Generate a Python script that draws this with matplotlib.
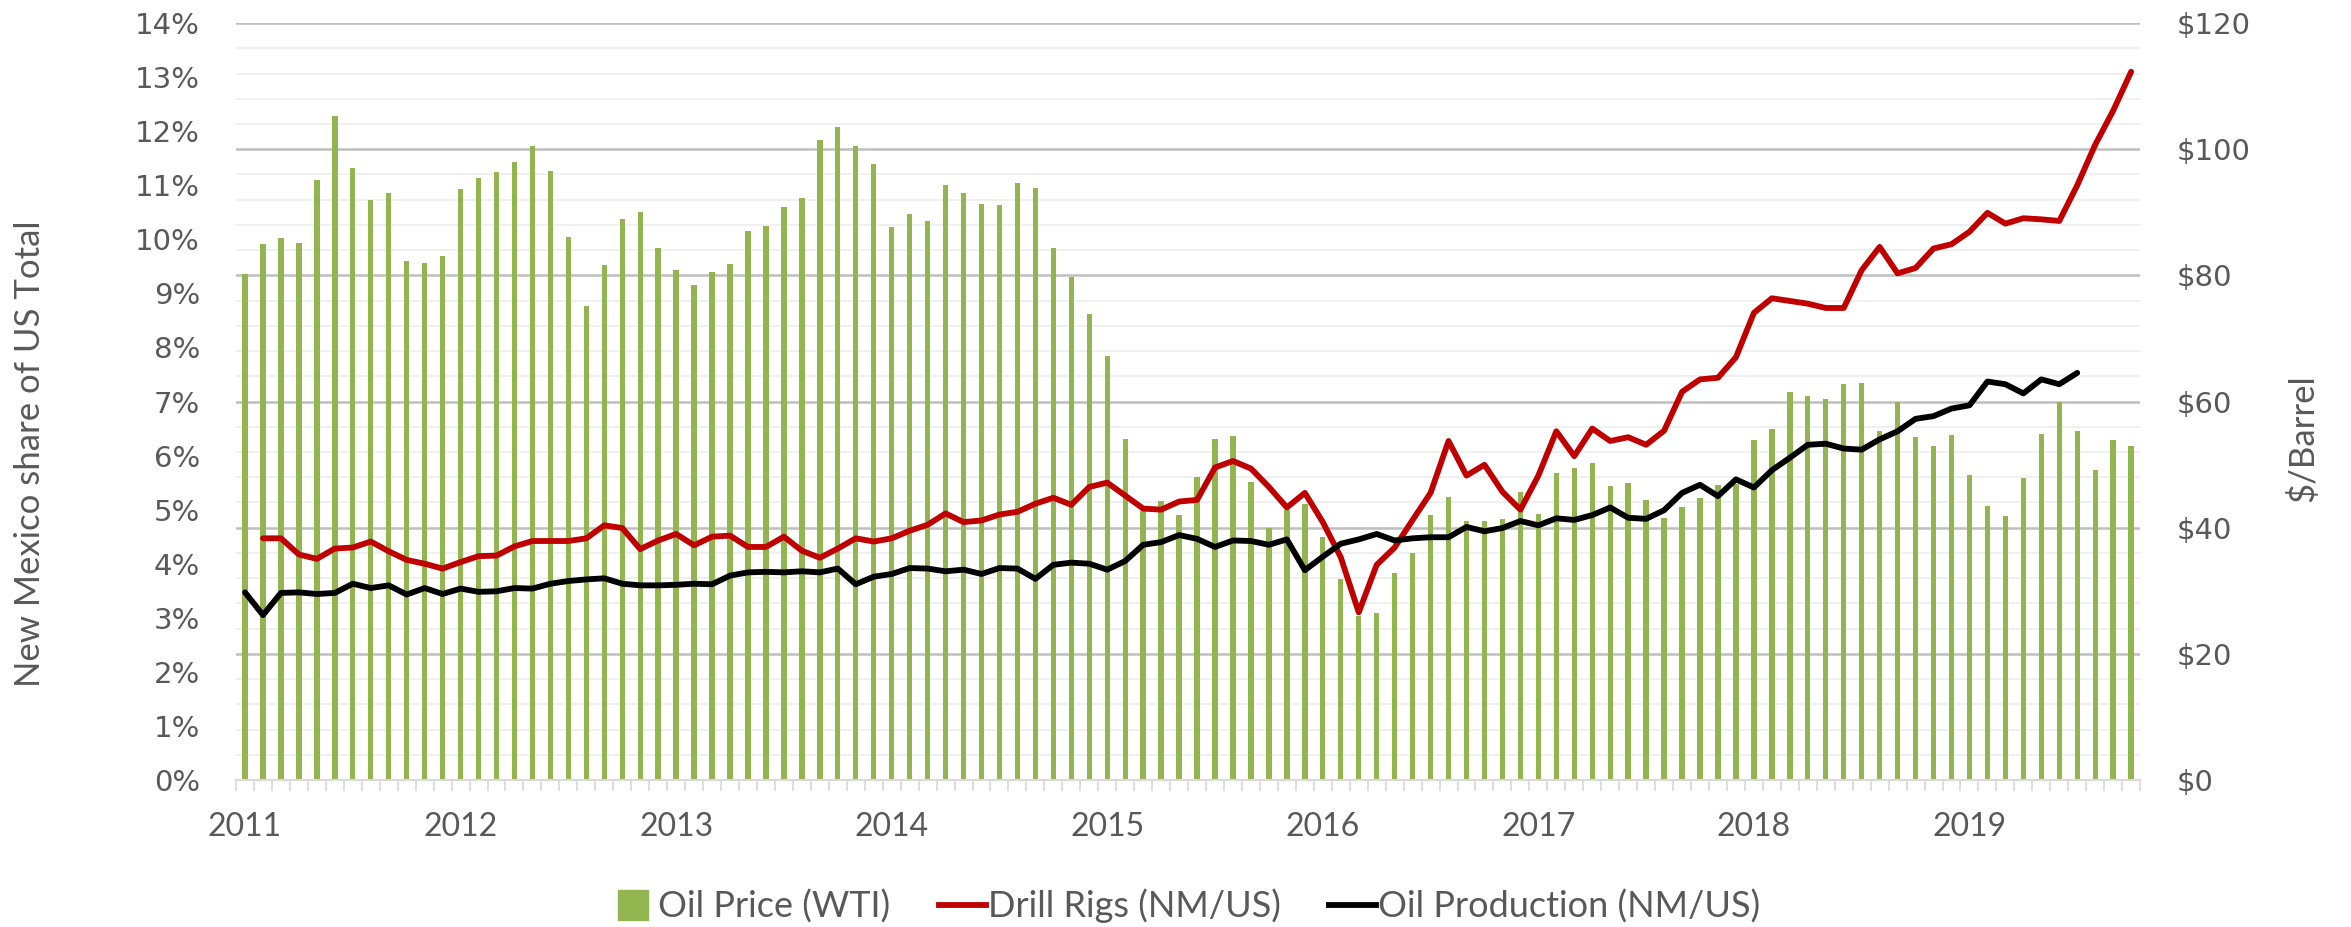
import matplotlib

matplotlib.use("Agg")
import matplotlib.pyplot as plt
import numpy as np
from matplotlib.lines import Line2D
from matplotlib.ticker import FuncFormatter, MultipleLocator

# monthly, Jan 2011 .. Oct 2019
years = ["2011", "2012", "2013", "2014", "2015", "2016", "2017", "2018", "2019"]

oil_price = [
    80.2, 84.9, 85.9, 85.1, 95.1, 105.3, 97.0, 92.0, 93.0, 82.3, 82.0, 83.0,
    93.7, 95.4, 96.4, 98.0, 100.5, 96.6, 86.1, 75.2, 81.7, 88.9, 90.1, 84.4,
    80.8, 78.4, 80.6, 81.8, 87.0, 87.8, 90.8, 92.2, 101.4, 103.5, 100.5, 97.7,
    87.7, 89.8, 88.6, 94.3, 93.0, 91.3, 91.1, 94.7, 93.8, 84.3, 79.7, 73.9,
    67.2, 54.0, 42.6, 44.3, 42.0, 48.0, 54.0, 54.6, 47.2, 39.9, 42.8, 43.7,
    38.5, 31.9, 26.0, 26.5, 32.8, 36.0, 42.0, 44.9, 41.1, 41.0, 41.3, 45.7,
    42.1, 48.6, 49.4, 50.3, 46.6, 47.1, 44.4, 41.6, 43.2, 44.7, 46.7, 47.0,
    53.9, 55.7, 61.5, 60.8, 60.4, 62.7, 62.9, 55.4, 59.9, 54.3, 52.9, 54.7,
    48.4, 43.5, 41.8, 47.8, 54.8, 60.0, 55.3, 49.2, 53.9, 53.0,
]

# NM share of US rig count, % (no value for Jan 2011)
drill_rigs = [
    np.nan, 4.47, 4.47, 4.17, 4.09, 4.28, 4.30, 4.41, 4.23, 4.07, 4.00, 3.91,
    4.03, 4.14, 4.15, 4.32, 4.42, 4.42, 4.42, 4.47, 4.71, 4.66, 4.27, 4.43,
    4.55, 4.34, 4.50, 4.52, 4.31, 4.31, 4.50, 4.24, 4.11, 4.28, 4.47, 4.41,
    4.47, 4.61, 4.72, 4.93, 4.77, 4.80, 4.91, 4.96, 5.11, 5.22, 5.09, 5.42,
    5.50, 5.26, 5.02, 5.00, 5.15, 5.18, 5.78, 5.90, 5.76, 5.42, 5.04, 5.31,
    4.77, 4.12, 3.10, 3.98, 4.30, 4.81, 5.31, 6.27, 5.63, 5.83, 5.33, 5.00,
    5.63, 6.45, 5.99, 6.50, 6.27, 6.34, 6.20, 6.46, 7.18, 7.41, 7.44, 7.82,
    8.64, 8.91, 8.86, 8.81, 8.73, 8.73, 9.43, 9.86, 9.37, 9.47, 9.83, 9.91,
    10.14, 10.49, 10.29, 10.39, 10.37, 10.34, 11.00, 11.75, 12.38, 13.10,
]

# NM share of US oil production, % (ends Jul 2019)
oil_production = [
    3.47, 3.05, 3.46, 3.47, 3.44, 3.46, 3.63, 3.55, 3.60, 3.43, 3.55, 3.44,
    3.54, 3.48, 3.49, 3.55, 3.54, 3.63, 3.68, 3.71, 3.73, 3.63, 3.60, 3.60,
    3.61, 3.63, 3.62, 3.78, 3.84, 3.85, 3.84, 3.86, 3.84, 3.91, 3.62, 3.76,
    3.81, 3.92, 3.91, 3.86, 3.89, 3.81, 3.92, 3.91, 3.72, 3.98, 4.02, 4.00,
    3.89, 4.05, 4.35, 4.40, 4.53, 4.46, 4.31, 4.43, 4.42, 4.35, 4.45, 3.88,
    4.13, 4.37, 4.45, 4.55, 4.43, 4.47, 4.49, 4.49, 4.68, 4.60, 4.66, 4.79,
    4.71, 4.84, 4.81, 4.90, 5.04, 4.85, 4.83, 4.99, 5.31, 5.46, 5.25, 5.56,
    5.41, 5.73, 5.96, 6.20, 6.22, 6.13, 6.11, 6.30, 6.45, 6.68, 6.73, 6.87,
    6.93, 7.37, 7.32, 7.15, 7.41, 7.32, 7.53,
]

GREEN = "#92B550"
RED = "#C00000"
TXT = "#595959"
LABEL_FONT = ["Lato", "DejaVu Sans"]
LW = 4.2

n = len(oil_price)
x = np.arange(n)

fig = plt.figure(figsize=(23.51, 9.27), dpi=100)
ax = fig.add_axes([0.1004, 0.1586, 0.8099, 0.8165])
ax2 = ax.twinx()
ax.set_zorder(2)
ax2.set_zorder(1)
ax.patch.set_visible(False)

# bars on the $ axis
ax2.bar(x, oil_price, width=0.3, color=GREEN, zorder=2)
ax2.set_ylim(0, 120)
ax2.yaxis.set_major_locator(MultipleLocator(20))
ax2.yaxis.set_minor_locator(MultipleLocator(4))
ax2.yaxis.set_major_formatter(FuncFormatter(lambda v, _: f"${v:.0f}"))
ax2.set_axisbelow(True)
ax2.grid(axis="y", which="major", color="#BFBFBF", lw=1.8)
ax2.grid(axis="y", which="minor", color="#EFEFEF", lw=1.3)
ax2.tick_params(axis="y", which="both", length=0, pad=26, labelsize=21, labelcolor=TXT)

# lines on the % axis
ax.plot(x[: len(drill_rigs)], drill_rigs, color=RED, lw=LW, solid_joinstyle="round",
        solid_capstyle="round")
ax.plot(x[: len(oil_production)], oil_production, color="black", lw=LW,
        solid_joinstyle="round", solid_capstyle="round")
ax.set_ylim(0, 14)
ax.yaxis.set_major_locator(MultipleLocator(1))
ax.yaxis.set_major_formatter(FuncFormatter(lambda v, _: f"{v:.0f}%"))
ax.tick_params(axis="y", length=0, pad=26, labelsize=21, labelcolor=TXT)

ax.set_xlim(-0.5, n - 0.5)
ax.set_xticks(np.arange(0, n, 12))
ax.set_xticklabels(years, fontsize=23, color=TXT, family=LABEL_FONT)
ax.set_xticks(np.arange(-0.5, n, 1), minor=True)
ax.tick_params(axis="x", which="major", length=0, pad=23)
ax.tick_params(axis="x", which="minor", length=8, width=1.2, color="#D9D9D9")

for a in (ax, ax2):
    for s in a.spines.values():
        s.set_visible(False)
ax.spines["bottom"].set_visible(True)
ax.spines["bottom"].set_color("#D9D9D9")
ax.spines["bottom"].set_linewidth(1.5)

fig.text(0.0128, 0.51, "New Mexico share of US Total", rotation=90, ha="center",
         va="center", fontsize=25, color=TXT, family=LABEL_FONT)
fig.text(0.9796, 0.527, "$/Barrel", rotation=90, ha="center", va="center",
         fontsize=25, color=TXT, family=LABEL_FONT)

handles = [
    Line2D([], [], marker="s", ms=22, color=GREEN, ls="none"),
    Line2D([], [], color=RED, lw=LW),
    Line2D([], [], color="black", lw=LW),
]
labels = ["Oil Price (WTI)", "Drill Rigs (NM/US)", "Oil Production (NM/US)"]
fig.legend(handles, labels, loc="center", bbox_to_anchor=(0.504, 0.0227), ncol=3,
           frameon=False, handlelength=1.3, handletextpad=0.05, columnspacing=1.35,
           prop={"family": LABEL_FONT, "size": 26}, labelcolor=TXT)

fig.savefig("out.png", dpi=100)
